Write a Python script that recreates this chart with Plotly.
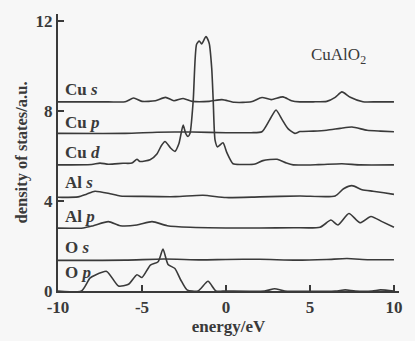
import plotly.graph_objects as go

# energy (eV) / density-of-states points for each curve (offset baselines included)
cu_s_x = [-10, -7, -6.0, -5.5, -5.0, -4.2, -3.6, -3.1, -2.55, -2.0, -1.0, -0.24, 0.5, 1.5, 2.14, 2.7, 3.39, 3.9, 4.4, 5.2, 6.0, 6.5, 6.9, 7.4, 8.15, 9.0, 10]
cu_s_y = [8.4, 8.4, 8.4, 8.57, 8.42, 8.45, 8.6, 8.45, 8.55, 8.42, 8.42, 8.5, 8.38, 8.4, 8.59, 8.5, 8.62, 8.45, 8.4, 8.4, 8.42, 8.6, 8.84, 8.6, 8.4, 8.4, 8.4]

cu_p_x = [-10, -6, -4.1, -2.0, 0.0, 1.5, 2.14, 2.6, 2.98, 3.35, 3.69, 4.1, 4.4, 5.2, 6.0, 6.8, 7.5, 8.4, 9.2, 10]
cu_p_y = [7.0, 7.0, 7.05, 7.06, 7.03, 7.03, 7.07, 7.6, 8.04, 7.6, 7.21, 7.0, 7.08, 7.1, 7.14, 7.22, 7.28, 7.14, 7.1, 7.07]

cu_d_x = [-10, -8.0, -7.5, -7.0, -6.13, -5.6, -5.3, -5.12, -4.52, -4.1, -3.85, -3.63, -3.3, -3.04, -2.8, -2.55, -2.4, -2.26, -2.14, -1.95, -1.75, -1.59, -1.45, -1.19, -1.0, -0.85, -0.76, -0.65, -0.5, -0.18, 0.06, 0.42, 1.0, 1.73, 2.2, 3.04, 3.6, 4.0, 5.5, 6.9, 8.0, 10]
cu_d_y = [5.6, 5.62, 5.68, 5.63, 5.67, 5.68, 5.85, 5.75, 5.83, 6.1, 6.45, 6.64, 6.35, 6.2, 6.55, 7.37, 7.0, 6.86, 7.0, 8.46, 10.96, 11.1, 10.97, 11.3, 11.0, 9.9, 8.46, 6.7, 6.4, 6.58, 6.13, 5.65, 5.62, 5.64, 5.79, 5.85, 5.68, 5.6, 5.61, 5.65, 5.6, 5.6]

al_s_x = [-10, -8.8, -8.3, -7.8, -6.9, -6.3, -5.0, -3.0, -1.37, 0.0, 2.0, 4.4, 6.5, 7.0, 7.5, 8.1, 8.75, 9.4, 10]
al_s_y = [4.16, 4.18, 4.3, 4.43, 4.32, 4.22, 4.2, 4.19, 4.25, 4.15, 4.18, 4.22, 4.22, 4.54, 4.68, 4.5, 4.43, 4.36, 4.29]

al_p_x = [-10, -8.5, -7.9, -7.0, -6.3, -5.3, -4.4, -3.5, -2.14, 0.0, 2.0, 4.0, 5.6, 6.25, 6.67, 7.32, 7.98, 8.63, 9.29, 10]
al_p_y = [2.79, 2.8, 2.9, 3.08, 2.9, 2.93, 3.08, 2.9, 2.83, 2.8, 2.8, 2.81, 2.83, 3.15, 2.93, 3.44, 3.03, 3.31, 3.08, 2.83]

o_s_x = [-10, -6, -3.7, -1.5, 0.0, 2.0, 4.2, 6.0, 7.2, 8.5, 10]
o_s_y = [1.36, 1.37, 1.42, 1.38, 1.4, 1.41, 1.37, 1.4, 1.44, 1.39, 1.39]

o_p_x = [-10, -8.6, -8.1, -7.8, -7.1, -6.4, -5.8, -5.3, -5.0, -4.5, -4.04, -3.75, -3.45, -3.04, -2.7, -2.32, -1.67, -1.07, -0.6, 0.0, 2.3, 2.9, 3.5, 6.5, 7.1, 7.7, 8.7, 9.2, 10]
o_p_y = [0.0, 0.0, 0.57, 0.7, 0.87, 0.22, 0.3, 0.72, 0.6, 1.15, 1.3, 1.86, 1.18, 1.0, 0.5, 0.05, 0.0, 0.43, 0.0, 0.0, 0.0, 0.1, 0.0, 0.0, 0.05, 0.0, 0.0, 0.05, 0.0]

curve_labels = ["Cu <i>s</i>", "Cu <i>p</i>", "Cu <i>d</i>", "Al <i>s</i>", "Al <i>p</i>", "O <i>s</i>", "O <i>p</i>"]
label_y = [8.93, 7.48, 6.13, 4.81, 3.33, 1.93, 0.83]
label_x = -9.72

x_ticks = [-10, -5, 0, 5, 10]
y_ticks = [0, 4, 8, 12]

LINE = "#3a3a3a"
TXT = "#3a3a3a"
FONT = "Liberation Serif"

fig = go.Figure()
for xs, ys in [(cu_s_x, cu_s_y), (cu_p_x, cu_p_y), (cu_d_x, cu_d_y), (al_s_x, al_s_y),
               (al_p_x, al_p_y), (o_s_x, o_s_y), (o_p_x, o_p_y)]:
    fig.add_trace(go.Scatter(x=xs, y=ys, mode="lines",
                             line=dict(color=LINE, width=1.6, shape="spline", smoothing=0.6),
                             showlegend=False, hoverinfo="skip"))

for t, yv in zip(curve_labels, label_y):
    fig.add_annotation(x=label_x, y=yv, text="<b>" + t + "</b>", showarrow=False,
                       xanchor="left", yanchor="middle",
                       font=dict(family=FONT, size=17, color=TXT))

fig.add_annotation(x=6.67, y=10.44, text="CuAlO<sub>2</sub>", showarrow=False,
                   font=dict(family=FONT, size=17, color=TXT))

fig.update_layout(
    width=415, height=341,
    margin=dict(l=58, r=16, t=12, b=48),
    paper_bgcolor="#f7f7f7", plot_bgcolor="#f7f7f7",
    font=dict(family=FONT, size=16, color=TXT),
    xaxis=dict(range=[-10, 10.3], tickvals=x_ticks,
               ticktext=["<b>%d</b>" % v for v in x_ticks],
               showline=True, linecolor=LINE, linewidth=2, ticks="inside", ticklen=6,
               tickwidth=1.5, tickcolor=LINE, showgrid=False, zeroline=False,
               title=dict(text="<b>energy/eV</b>", font=dict(family=FONT, size=17, color=TXT), standoff=0),
               tickfont=dict(family=FONT, size=17, color=TXT)),
    yaxis=dict(range=[0, 12.3], tickvals=y_ticks,
               ticktext=["<b>%d</b>" % v for v in y_ticks],
               showline=True, linecolor=LINE, linewidth=2, ticks="inside", ticklen=6,
               tickwidth=1.5, tickcolor=LINE, showgrid=False, zeroline=False,
               title=dict(text="<b>density of states/a.u.</b>", font=dict(family=FONT, size=16.5, color=TXT), standoff=4),
               tickfont=dict(family=FONT, size=17, color=TXT)),
)

fig.write_html("out.html")
